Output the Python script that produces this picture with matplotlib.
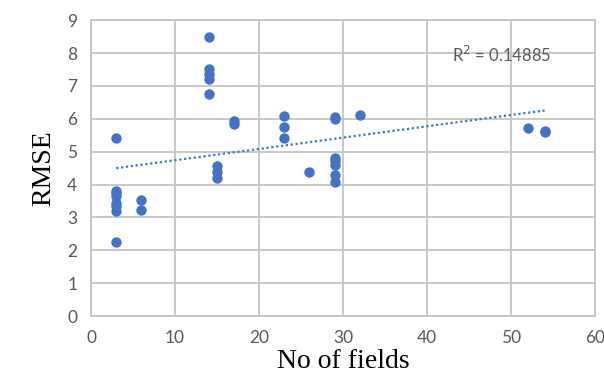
import numpy as np
import matplotlib
matplotlib.use("Agg")
import matplotlib.pyplot as plt

# ---- data -----------------------------------------------------------------
n_fields = [3, 3, 3, 3, 3, 3, 3, 3,
            6, 6,
            14, 14, 14, 14, 14,
            15, 15, 15,
            17, 17,
            23, 23, 23,
            26,
            29, 29, 29, 29, 29, 29, 29,
            32,
            52,
            54, 54]
rmse = [5.42, 3.8, 3.75, 3.65, 3.45, 3.35, 3.2, 2.25,
        3.52, 3.22,
        8.5, 7.5, 7.35, 7.2, 6.75,
        4.55, 4.38, 4.2,
        5.92, 5.83,
        6.07, 5.75, 5.43,
        4.38,
        6.05, 6.0, 4.8, 4.7, 4.6, 4.3, 4.08,
        6.12,
        5.72,
        5.62, 5.6]
r2_label = "R$^2$ = 0.14885"

x = np.array(n_fields, dtype=float)
y = np.array(rmse, dtype=float)
slope, intercept = np.polyfit(x, y, 1)

grey = "#595959"
blue = "#4472C4"

fig = plt.figure(figsize=(6.04, 3.8), dpi=100)
ax = fig.add_axes([0.1507, 0.1684, 0.8343, 0.7786])

ax.scatter(x, y, s=56, color=blue, zorder=3, linewidths=0)
xf = np.array([x.min(), x.max()])
ax.plot(xf, slope * xf + intercept, color=blue, lw=1.6, ls=(0, (1, 1.2)), zorder=2)

ax.set_xlim(0, 60)
ax.set_ylim(0, 9)
ax.set_xticks(range(0, 61, 10))
ax.set_yticks(range(0, 10))
ax.grid(True, color="#c4c4c4", lw=1.3, zorder=0)
ax.set_axisbelow(True)
for s in ax.spines.values():
    s.set_color("#c4c4c4")
    s.set_linewidth(1.3)
ax.tick_params(length=0, labelsize=12.5, colors=grey, pad=10)
for lab in ax.get_xticklabels() + ax.get_yticklabels():
    lab.set_family("Lato")

ax.text(43, 7.72, r2_label, fontsize=12, color=grey, family="Lato")

ax.set_xlabel("No of fields", family="Liberation Serif", fontsize=20, labelpad=2)
ax.set_ylabel("RMSE", family="Liberation Serif", fontsize=20, labelpad=8)

fig.savefig("out.png", dpi=100)
